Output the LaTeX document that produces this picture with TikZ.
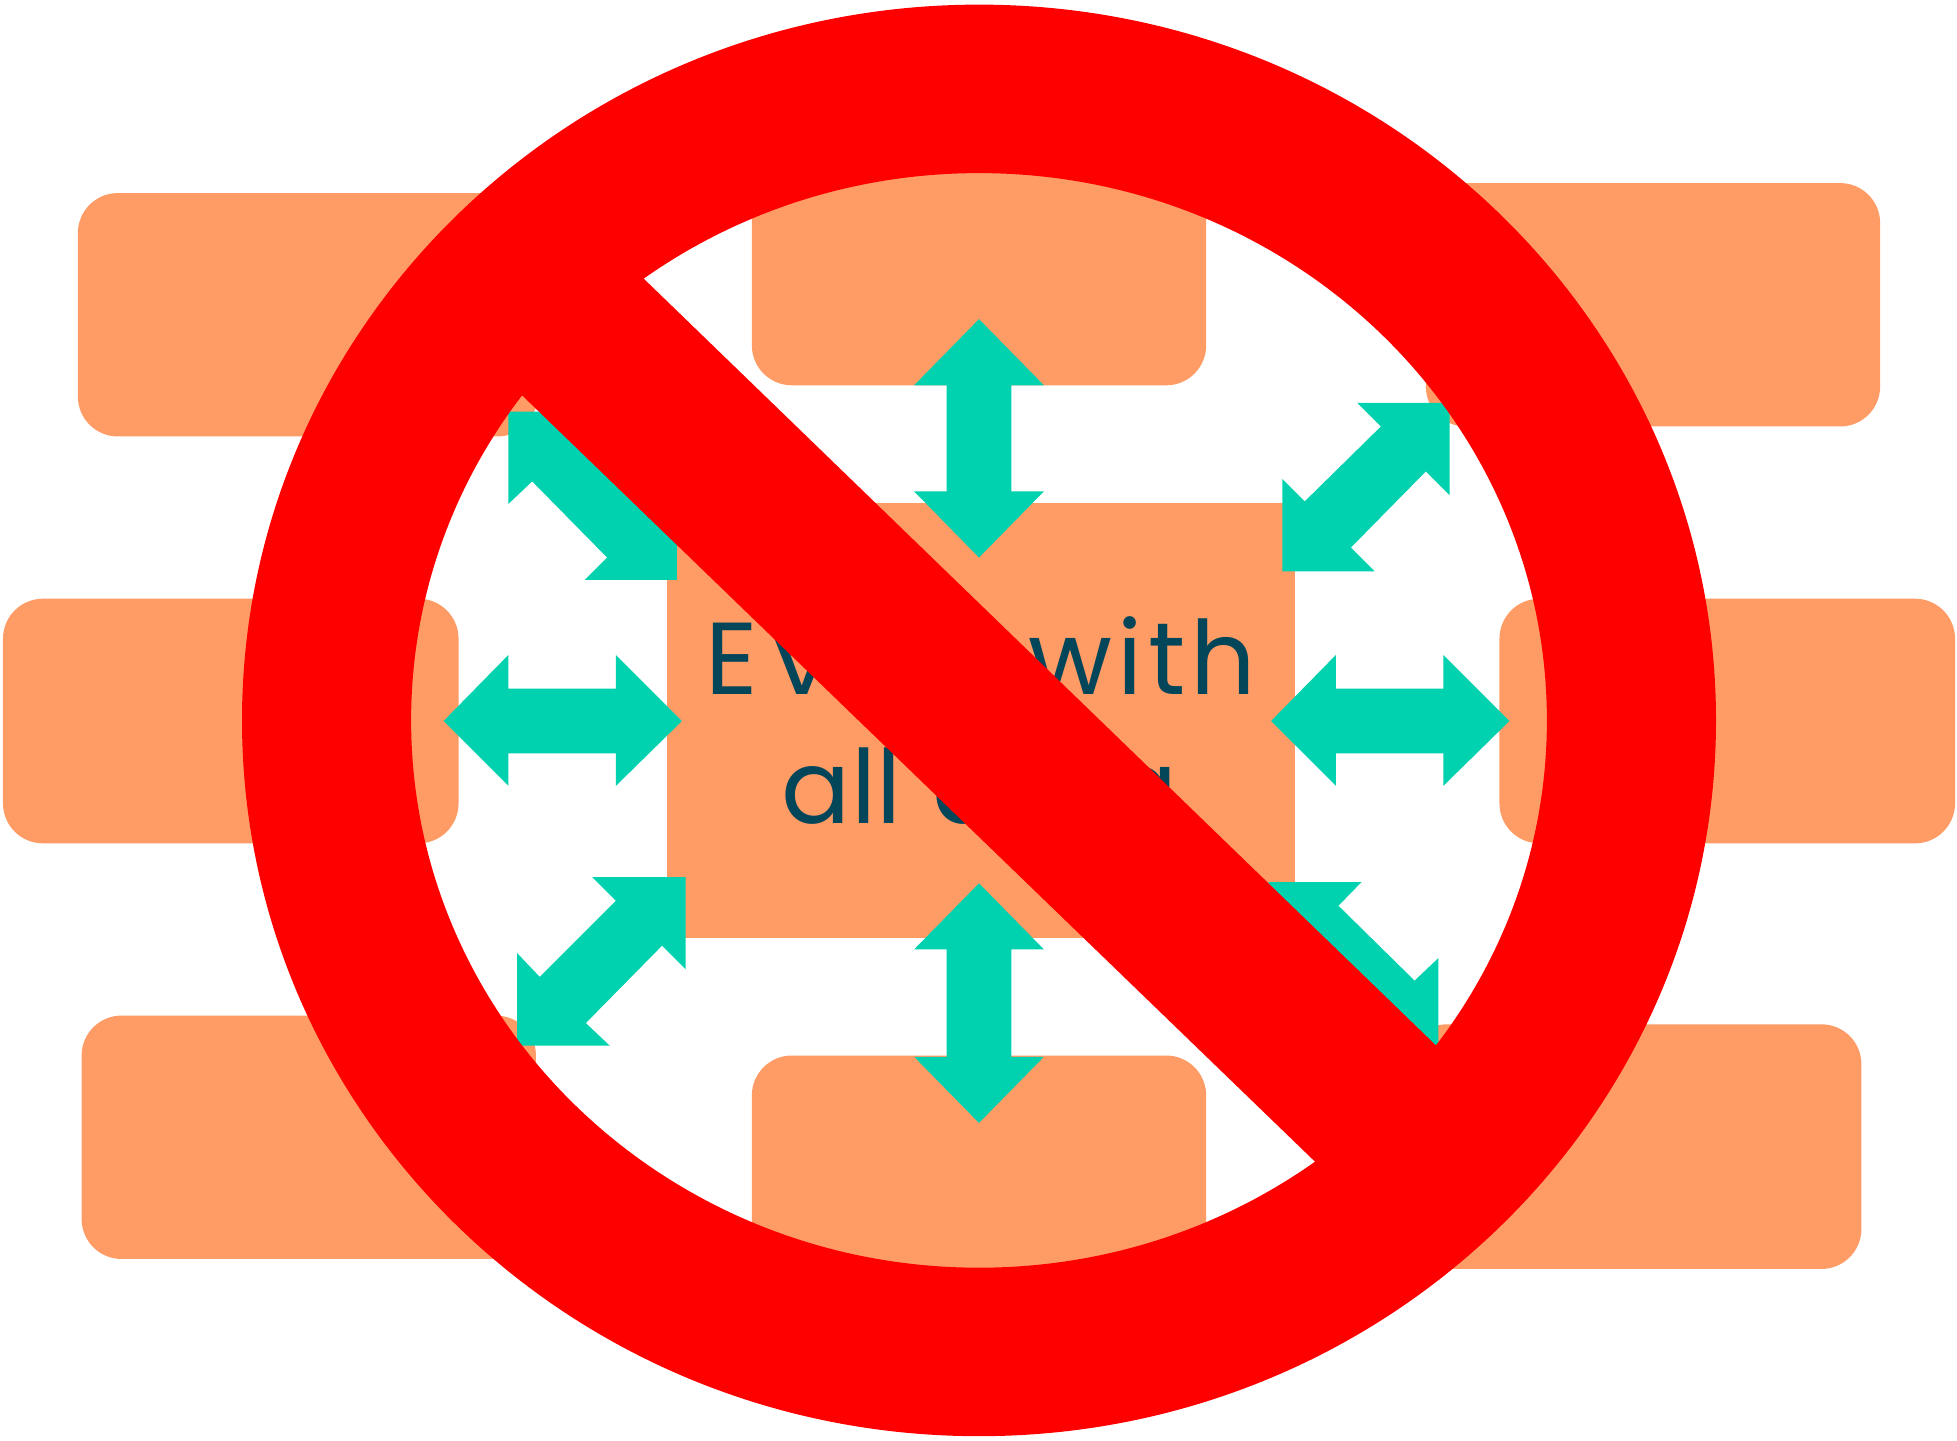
\documentclass[tikz,border=0pt]{standalone}
\usepackage{fontspec}
\setmainfont{Poppins}
\newfontfamily\spacedfont{Poppins}[LetterSpace=5]
\definecolor{brick}{HTML}{FF9C66}
\definecolor{arrowteal}{HTML}{00D1AF}
\definecolor{inkblue}{HTML}{034559}
\tikzset{
  brickbox/.style={fill=brick,rounded corners=32pt},
  plainbox/.style={fill=brick},
  spread/.style={fill=arrowteal},
  banned/.style={fill=red,even odd rule},
  caption/.style={text=inkblue,anchor=base,inner sep=0pt,font=\fontsize{82}{96}\selectfont}
}
\begin{document}
\begin{tikzpicture}[x=1pt,y=-1pt]
\useasboundingbox (-0.4,-0.7) rectangle (1567.6,1153.3);
\fill[white] (-0.4,-0.7) rectangle (1567.6,1153.3);
% bricks
\fill[brickbox] (62,154) rectangle (430,349);
\fill[brickbox] (602,113) rectangle (966,308);
\fill[brickbox] (1142,146) rectangle (1506,341);
\fill[brickbox] (2,479) rectangle (367,675);
\fill[brickbox] (1201,479) rectangle (1566,675);
\fill[brickbox] (65,813) rectangle (429,1008);
\fill[brickbox] (602,845) rectangle (966,1040);
\fill[brickbox] (1127,820) rectangle (1491,1016);
\fill[plainbox] (534,402) rectangle (1037,751);
% text
\node[caption] (line1) at (785.5,556) {\spacedfont E\kern12pt very\hspace{19pt}with};
\node[caption] (line2) at (784.5,659) {all\hspace{3pt} data};
% arrows
\fill[spread] (784,255)--(836,308)--(810,308)--(810,393)--(836,393)--(784,446)--(732,393)--(758,393)--(758,308)--(732,308)--cycle;
\fill[spread] (784,707)--(836,760)--(810,760)--(810,846)--(836,846)--(784,899)--(732,846)--(758,846)--(758,760)--(732,760)--cycle;
\fill[spread] (355,577)--(407,524)--(407,551)--(493,551)--(493,524)--(546,577)--(493,629)--(493,603)--(407,603)--(407,629)--cycle;
\fill[spread] (1018,577)--(1070,524)--(1070,551)--(1156,551)--(1156,524)--(1209,577)--(1156,629)--(1156,603)--(1070,603)--(1070,629)--cycle;
\fill[spread] (1161,322)--(1161,396)--(1142,377)--(1082,438)--(1101,457)--(1027,457)--(1027,383)--(1045,401)--(1106,341)--(1087,322)--cycle;
\fill[spread] (407,329)--(407,403)--(426,385)--(486,446)--(468,464)--(542,464)--(542,390)--(523,408)--(462,348)--(481,329)--cycle;
\fill[spread] (549,702)--(549,776)--(530,757)--(469,819)--(488,837)--(414,837)--(414,763)--(432,782)--(493,721)--(474,702)--cycle;
\fill[spread] (1016,706)--(1090.5,706)--(1072,725)--(1133,785)--(1152,767)--(1152,841)--(1078,841)--(1097,822)--(1035,761)--(1016,780)--cycle;
% prohibition sign
\fill[banned] (784,576.5) ellipse [x radius=590.5pt,y radius=573.5pt]
              (784,576.5) ellipse [x radius=455pt,y radius=438.5pt];
\fill[red] (490,198)--(1175,861)--(1078,954)--(393,292)--cycle;
\end{tikzpicture}
\end{document}
